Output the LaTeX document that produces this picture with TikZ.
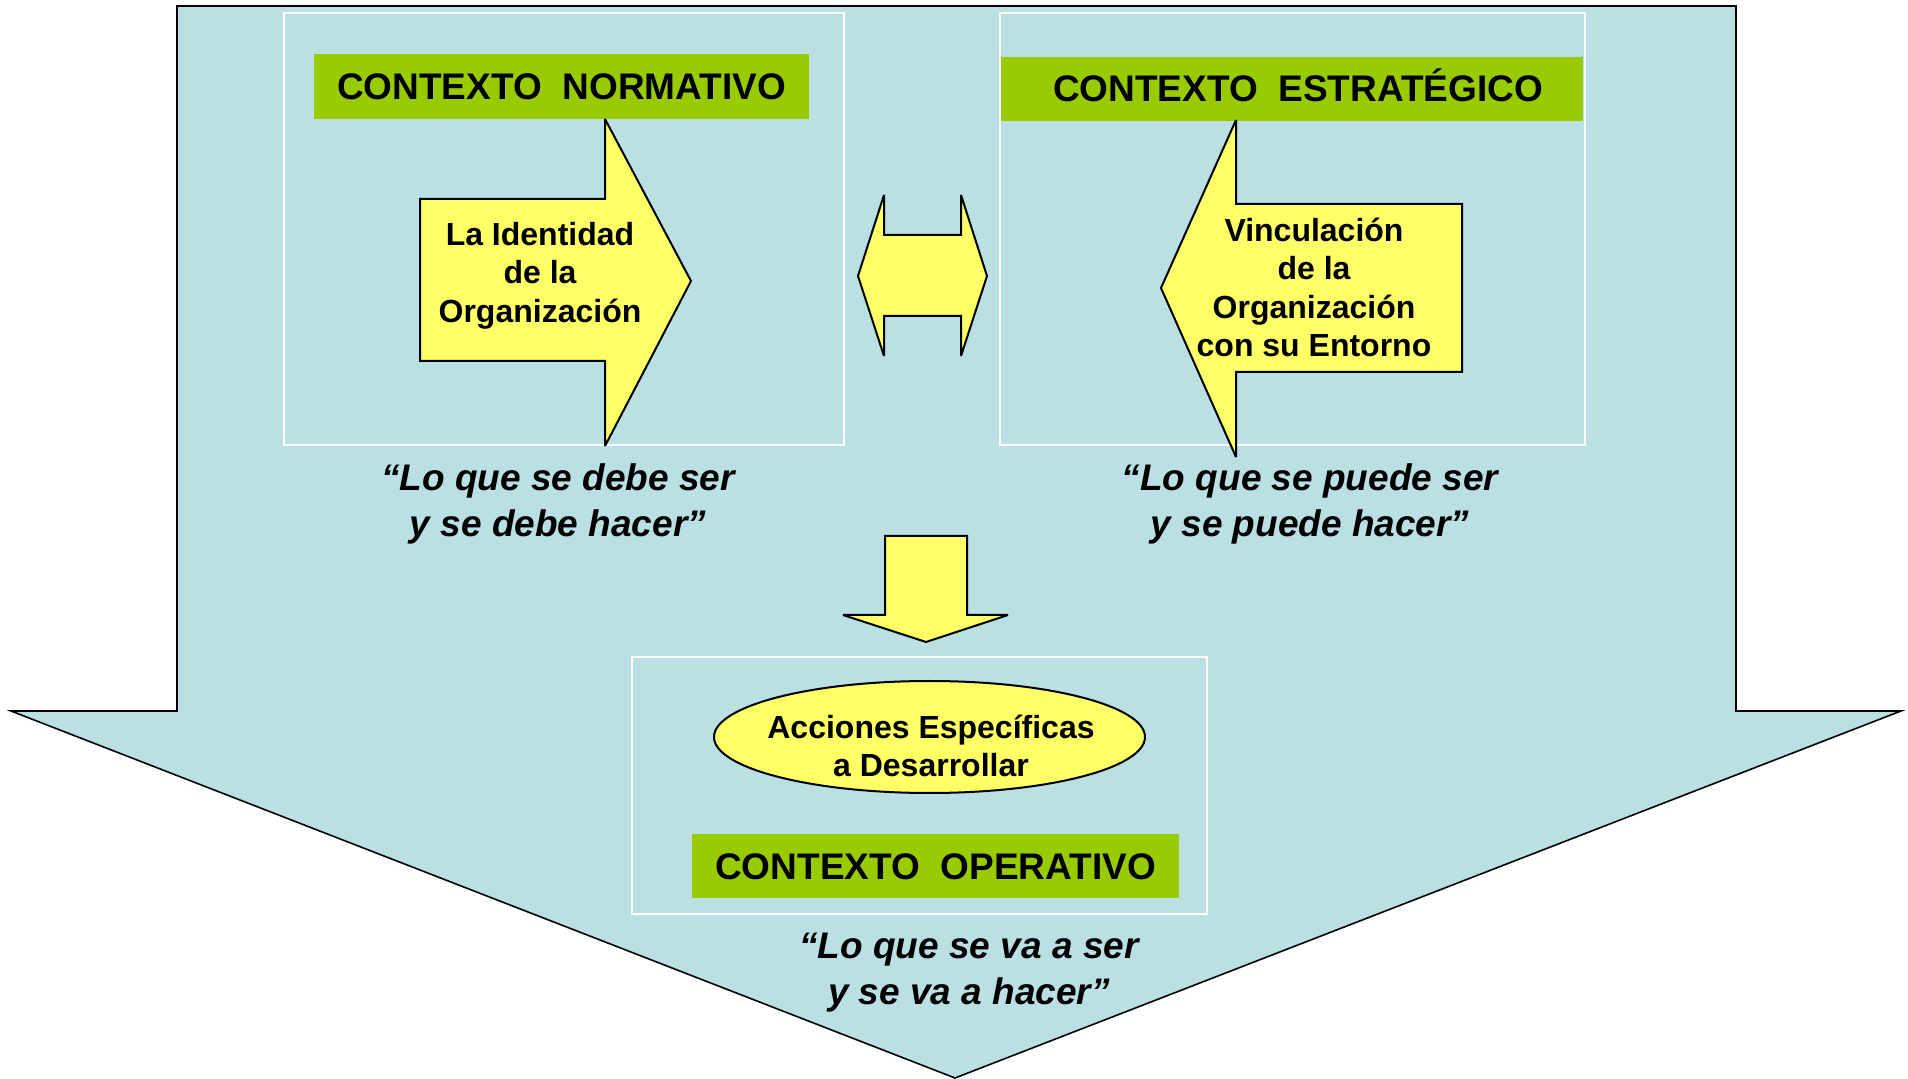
\documentclass[tikz,border=0pt]{standalone}
\usepackage{fontspec}
\setmainfont{Liberation Sans}
\usetikzlibrary{shapes.geometric}
\definecolor{bluebg}{HTML}{BAE0E3}
\definecolor{grn}{HTML}{99CC00}
\definecolor{yel}{HTML}{FFFF66}
\begin{document}
\begin{tikzpicture}[x=0.5pt,y=-0.5pt,
  bigarrow/.style={fill=bluebg, draw=black, line width=0.8pt, line join=miter},
  yarrow/.style={fill=yel, draw=black, line width=1pt, line join=miter, miter limit=3},
  framebox/.style={draw=white, line width=1pt},
  greenbox/.style={fill=grn, draw=none},
  titletext/.style={font=\fontsize{18.5}{22}\selectfont\bfseries, inner sep=0pt, anchor=base},
  bodytext/.style={font=\fontsize{16}{19.3}\selectfont\bfseries, align=center, inner sep=0pt},
  quotetext/.style={font=\fontsize{18.5}{23}\selectfont\bfseries\itshape, align=center, inner sep=0pt}]
\useasboundingbox (0,0) rectangle (1908,1079);
\fill[white] (0,0) rectangle (1908,1079);

% big background arrow
\draw[bigarrow] (177,6) -- (1736,6) -- (1736,711) -- (1901,711) -- (955,1078)
  -- (11,711) -- (177,711) -- cycle;

% white frames
\draw[framebox] (283.5,13) rectangle (843.5,445);
\draw[framebox] (1000,13) rectangle (1584.5,445);
\draw[framebox] (631.5,657) rectangle (1207,914);

% green title boxes
\fill[greenbox] (314,54) rectangle (809,119);
\node[titletext] (tnorm) at (561.5,100) {CONTEXTO\ \ NORMATIVO};
\fill[greenbox] (1001,57) rectangle (1583,121.5);
\node[titletext] (testr) at (1298,102) {CONTEXTO\ \ ESTRATÉGICO};
\fill[greenbox] (692,834) rectangle (1179,898.5);
\node[titletext] (toper) at (935.5,880) {CONTEXTO\ \ OPERATIVO};

% right arrow (identity)
\draw[yarrow] (420,199) -- (605,199) -- (605,119) -- (691,281) -- (605,446)
  -- (605,361) -- (420,361) -- cycle;
\node[bodytext] (ident) at (540,275.5) {La Identidad\\de la\\Organización};

% left arrow (vinculación)
\draw[yarrow] (1462,204) -- (1236,204) -- (1236,120) -- (1161,288) -- (1236,457)
  -- (1236,372) -- (1462,372) -- cycle;
\node[bodytext] (vinc) at (1314,287.5) {Vinculación\\de la\\Organización\\con su Entorno};

% double arrow
\draw[yarrow] (858,276) -- (884,195) -- (884,235) -- (961,235) -- (961,195)
  -- (987,276) -- (961,356) -- (961,316) -- (884,316) -- (884,356) -- cycle;

% down arrow
\draw[yarrow] (885,536) -- (967,536) -- (967,615) -- (1008,615) -- (926,642)
  -- (843,615) -- (885,615) -- cycle;

% ellipse
\node[ellipse, draw=black, line width=1pt, fill=yel, minimum width=215.5pt,
  minimum height=56pt, inner sep=0pt] (acc) at (929.5,737) {};
\node[bodytext] (acctext) at (931,746) {Acciones Específicas\\a Desarrollar};

% quotes
\node[quotetext] (q1) at (558,504) {“Lo que se debe ser\\y se debe hacer”};
\node[quotetext] (q2) at (1310,504) {“Lo que se puede ser\\y se puede hacer”};
\node[quotetext] (q3) at (969,973) {“Lo que se va a ser\\y se va a hacer”};
\end{tikzpicture}
\end{document}
